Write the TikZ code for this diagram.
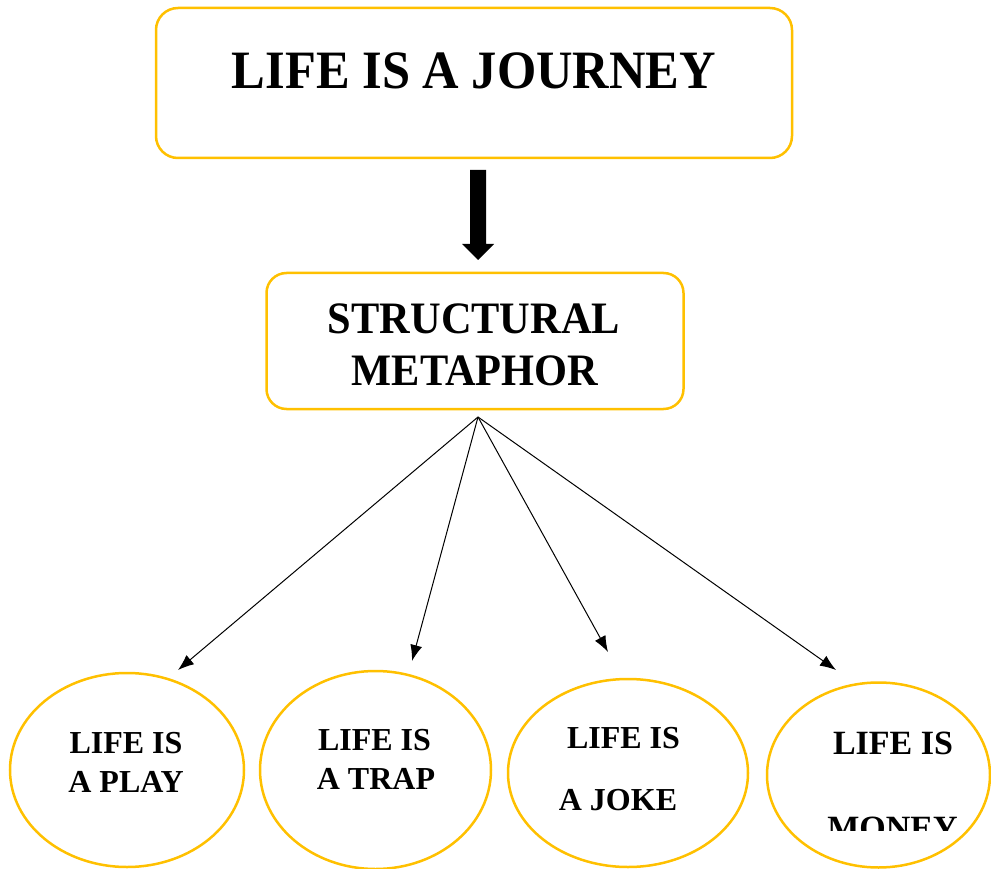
\documentclass[tikz,border=0pt]{standalone}
\usepackage{fontspec}
\setmainfont{Liberation Serif}
\usetikzlibrary{shapes.geometric,arrows.meta,calc}
\definecolor{gold}{HTML}{FFC000}
\begin{document}
\begin{tikzpicture}[x=1pt,y=-1pt,
  box/.style={draw=gold,line width=2.5pt,rounded corners=22pt,inner sep=0pt},
  oval/.style={draw=gold,line width=2.5pt,ellipse,inner sep=0pt},
  lbl/.style={font=\bfseries\fontsize{32}{38}\selectfont,inner sep=0pt,anchor=base},
  conn/.style={line width=1pt,-{Latex[length=16pt,width=12pt]}}]
\useasboundingbox (0,0) rectangle (991,869);
% top box
\node[box,minimum width=636pt,minimum height=150pt] (top) at (474,83) {};
\node[anchor=base,inner sep=0pt,font=\bfseries\fontsize{50.5}{60}\selectfont] (toptxt) at (474,89) {\scalebox{1}[1.07]{LIFE IS A JOURNEY}};
% block arrow
\coordinate (bt) at (478,170);
\fill[black] ($(bt)+(-8,0)$) -- ++(16,0) -- ++(0,74) -- ++(8,0) -- ++(-16,16) -- ++(-16,-16) -- ++(8,0) -- cycle;
% second box
\node[box,minimum width=417pt,minimum height=136pt,rounded corners=20pt] (mid) at (475,341) {};
\node[anchor=base,inner sep=0pt,font=\bfseries\fontsize{42.4}{50}\selectfont] (midA) at (474,333) {\scalebox{1}[1.06]{STRUCTURAL}};
\node[anchor=base,inner sep=0pt,font=\bfseries\fontsize{42.4}{50}\selectfont] (midB) at (475,385) {\scalebox{1}[1.06]{METAPHOR}};
% ellipses
\node[oval,minimum width=234pt,minimum height=194pt] (e1) at (127,770) {};
\node[oval,minimum width=231pt,minimum height=198pt] (e2) at (375.5,770) {};
\node[oval,minimum width=240pt,minimum height=188pt] (e3) at (628,773) {};
\node[oval,minimum width=223pt,minimum height=185pt] (e4) at (878.5,775) {};
% ellipse labels
\node[lbl] (e1a) at (126,753) {LIFE IS};
\node[lbl] (e1b) at (126,792) {A PLAY};
\node[lbl] (e2a) at (374.5,750) {LIFE IS};
\node[lbl] (e2b) at (376,789) {A TRAP};
\node[lbl] (e3a) at (623.5,748) {LIFE IS};
\node[lbl] (e3b) at (618,810) {A JOKE};
\node[lbl,font=\bfseries\fontsize{34}{40}\selectfont] (e4a) at (893,754) {LIFE IS};
\begin{scope}
\clip (760,700) rectangle (991,830);
\node[lbl,font=\bfseries\fontsize{34}{40}\selectfont] (e4b) at (892.5,839) {MONEY};
\end{scope}
% connectors
\coordinate (src) at (478,417);
\coordinate (h1) at (178,670);
\coordinate (h2) at (412,661);
\coordinate (h3) at (608,652);
\coordinate (h4) at (836,670);
\draw[conn] (src) -- (h1);
\draw[conn] (src) -- (h2);
\draw[conn] (src) -- (h3);
\draw[conn] (src) -- (h4);
\end{tikzpicture}
\end{document}
